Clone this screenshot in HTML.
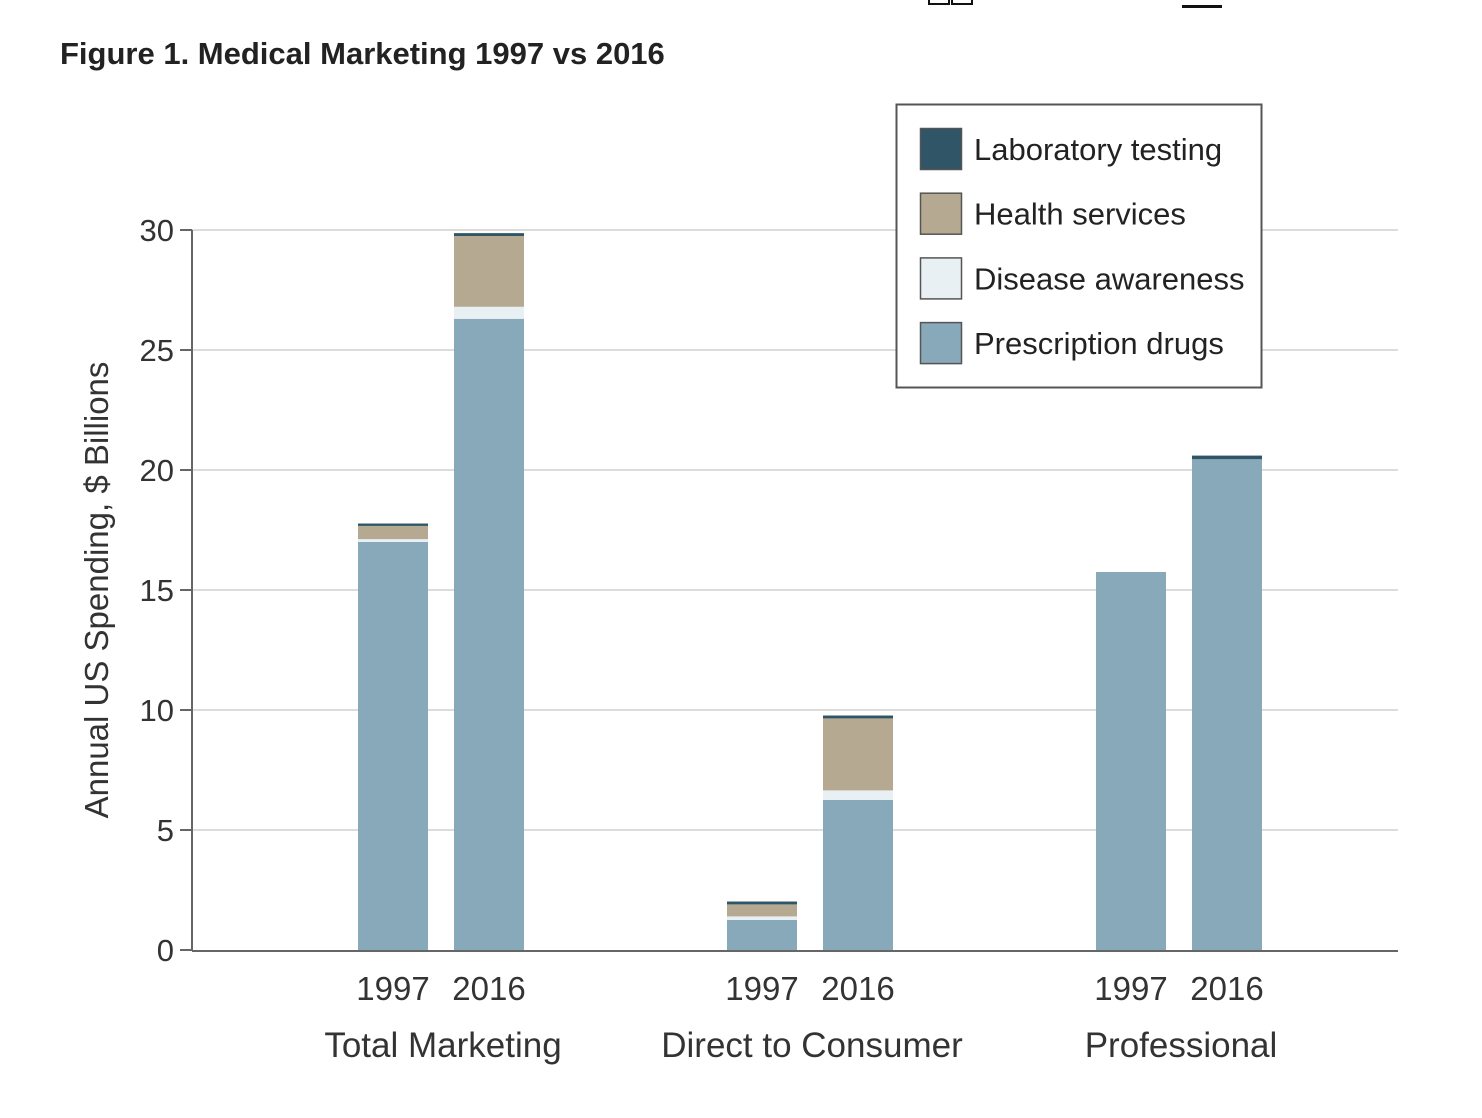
<!DOCTYPE html>
<html><head><meta charset="utf-8"><style>
html,body{margin:0;padding:0;background:#fff;}
svg{display:block;}
text{font-family:"Liberation Sans Narrow","Liberation Sans",sans-serif;fill:#333;}
</style></head><body>
<svg id="chart" width="1482" height="1118" viewBox="0 0 1482 1118">
<rect x="929" y="-6" width="20" height="10" fill="none" stroke="#111" stroke-width="2"/>
<rect x="952" y="-6" width="20" height="10" fill="none" stroke="#111" stroke-width="2"/>
<rect x="1182" y="5" width="40" height="3" fill="#111"/>
<text x="60" y="64" style="font-size:31px;font-weight:bold;fill:#222">Figure 1.  Medical Marketing 1997 vs 2016</text>
<g id="grid"></g>
<g id="bars"></g>
<g id="axes"></g>
<text transform="translate(108,590) rotate(-90)" text-anchor="middle" style="font-size:33px">Annual US Spending, $ Billions</text>
<g>
<rect x="896.5" y="104.5" width="365" height="283" fill="#fff" stroke="#555" stroke-width="2"/>
<g id="legend-items"></g>
</g>
</svg>
<script>
const groups = ["Total Marketing","Direct to Consumer","Professional"];
const years = ["1997","2016"];
const seriesNames = ["Prescription drugs","Disease awareness","Health services","Laboratory testing"];
const drugs = [17.0, 26.3, 1.25, 6.25, 15.75, 20.45];
const awareness = [0.12, 0.5, 0.15, 0.4, 0, 0];
const health = [0.55, 2.95, 0.5, 3.0, 0, 0];
const lab = [0.1, 0.12, 0.12, 0.12, 0, 0.15];
const yTicks = [0,5,10,15,20,25,30];

const colors = ["#87a9b9","#e8f0f3","#b5a991","#2f5566"];
const series = [drugs, awareness, health, lab];
const NS = "http://www.w3.org/2000/svg";
const y0 = 950, pxPerUnit = 24, xLeft = 192, xRight = 1398;
const yS = v => y0 - v * pxPerUnit;
const groupStart = [358, 727, 1096], barW = 70, barGap = 96;
const xS = i => groupStart[Math.floor(i/2)] + (i%2) * barGap;
function mk(tag, attrs, parent){const e=document.createElementNS(NS,tag);for(const k in attrs)e.setAttribute(k,attrs[k]);parent.appendChild(e);return e;}

const grid = document.getElementById('grid'), axes = document.getElementById('axes'), bars = document.getElementById('bars');
yTicks.forEach(t=>{
  if(t>0){const g=mk('line',{x1:xLeft,x2:xRight,y1:yS(t),y2:yS(t),stroke:'#dcdcdc','stroke-width':2},grid);
  
  }
  const tk=mk('line',{x1:180,x2:xLeft,y1:yS(t),y2:yS(t),stroke:'#666','stroke-width':2},axes);
  
  
  const lb=mk('text',{x:174,y:yS(t)+11,'text-anchor':'end',style:'font-size:31px'},axes);
  lb.textContent=t;
  
  
});
const ax=mk('line',{x1:xLeft,x2:xLeft,y1:yS(30),y2:y0+1,stroke:'#666','stroke-width':2},axes);


const bx=mk('line',{x1:xLeft,x2:xRight,y1:y0+1,y2:y0+1,stroke:'#666','stroke-width':2},axes);



drugs.forEach((_,i)=>{
  let cum=0;
  series.forEach((s,k)=>{
    const v=s[i]; if(v<=0) return;
    const r=mk('rect',{x:xS(i),y:yS(cum+v),width:barW,height:v*pxPerUnit,fill:colors[k]},bars);
    
    
    cum+=v;
  });
  const yl=mk('text',{x:xS(i)+barW/2,y:1000,'text-anchor':'middle',style:'font-size:33px'},axes);
  yl.textContent=years[i%2];
  
  
});
groups.forEach((g,j)=>{
  const t=mk('text',{x:groupStart[j]+(barGap+barW)/2+2,y:1057,'text-anchor':'middle',style:'font-size:35px'},axes);
  t.textContent=g;
  
  
});
const li=document.getElementById('legend-items');
const legendOrder=[3,2,1,0];
legendOrder.forEach((k,n)=>{
  const y=128+n*64.7;
  const sw=mk('rect',{x:920.5,y:y+0.5,width:41,height:41,fill:colors[k],stroke:'#555','stroke-width':1.5},li);
  
  
  const t=mk('text',{x:974,y:y+32,style:'font-size:31px;fill:#222'},li);
  t.textContent=seriesNames[k];
  
  
});
</script>
</body></html>
